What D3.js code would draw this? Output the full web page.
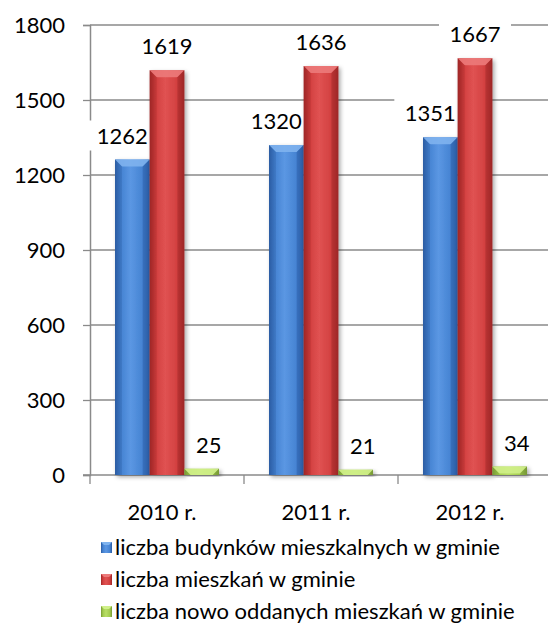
<!DOCTYPE html>
<html><head><meta charset="utf-8">
<script src="https://cdn.jsdelivr.net/npm/d3@7/dist/d3.min.js"></script>
<style>html,body{margin:0;padding:0;background:#fff;overflow:hidden}svg{display:block}</style>
</head><body>
<script>
const categories = ["2010 r.", "2011 r.", "2012 r."];
const seriesNames = ["liczba budynków mieszkalnych w gminie", "liczba mieszkań w gminie", "liczba nowo oddanych mieszkań w gminie"];
const budynki = [1262, 1320, 1351];
const mieszkania = [1619, 1636, 1667];
const nowe = [25, 21, 34];
const yTicks = [0, 300, 600, 900, 1200, 1500, 1800];

(function () {
const W = 548, H = 630;
const svg = d3.select("body").append("svg").attr("width", W).attr("height", H);
const font = "Lato, 'Open Sans', sans-serif";

const colors = [
  {mid: "#4583d2", light: "#5b97e3", dark: "#2b5ca3", top: "#7fb3ee"},
  {mid: "#d24040", light: "#e05252", dark: "#9e2626", top: "#ec7a7a"},
  {mid: "#a3cc4e", light: "#b8de66", dark: "#789a36", top: "#d0f08a"}
];
const defs = svg.append("defs");
colors.forEach((c, i) => {
  const g = defs.append("linearGradient").attr("id", "g" + i).attr("x1", 0).attr("x2", 1).attr("y1", 0).attr("y2", 0);
  g.append("stop").attr("offset", "0%").attr("stop-color", c.dark);
  g.append("stop").attr("offset", "18%").attr("stop-color", c.mid);
  g.append("stop").attr("offset", "45%").attr("stop-color", c.light);
  g.append("stop").attr("offset", "80%").attr("stop-color", c.mid);
  g.append("stop").attr("offset", "100%").attr("stop-color", c.dark);
});
const f = defs.append("filter").attr("id", "sh").attr("x", "-30%").attr("y", "-30%").attr("width", "160%").attr("height", "160%");
f.append("feDropShadow").attr("dx", 2).attr("dy", 2).attr("stdDeviation", 2).attr("flood-color", "#000").attr("flood-opacity", 0.35);

const pL = 90, pR = 552, pT = 25, pB = 475;
const y = d3.scaleLinear().domain([0, 1800]).range([pB, pT]);
const x = d3.scaleBand().domain(categories).range([pL, pR]).padding(0);
const inner = d3.scaleBand().domain([0, 1, 2]).range([25, x.bandwidth() - 25]).padding(0);

// gridlines
svg.append("g").selectAll("line").data(yTicks.filter(d => d > 0)).join("line")
  .attr("x1", pL).attr("x2", W).attr("y1", d => y(d)).attr("y2", d => y(d))
  .attr("stroke", "#8a8a8a").attr("stroke-width", 1.3);

// y axis
const yAxis = d3.axisLeft(y).tickValues(yTicks).tickSize(7).tickPadding(18).tickFormat(d3.format("d"));
const ya = svg.append("g").attr("transform", `translate(${pL},0)`).call(yAxis);
ya.select(".domain").attr("stroke", "#8a8a8a").attr("stroke-width", 1.5);
ya.selectAll(".tick line").attr("stroke", "#8a8a8a").attr("stroke-width", 1.3);
ya.selectAll("text").attr("font-family", font).attr("font-size", 22).attr("fill", "#000");

// x axis
const xa = svg.append("g").attr("transform", `translate(0,${pB})`);
xa.append("line").attr("x1", pL - 7).attr("x2", W).attr("y1", 0).attr("y2", 0).attr("stroke", "#8a8a8a").attr("stroke-width", 1.5);
const bounds = categories.map(c => x(c)).concat([x(categories[categories.length - 1]) + x.bandwidth()]);
xa.selectAll("line.t").data(bounds).join("line").attr("class", "t")
  .attr("x1", d => d).attr("x2", d => d).attr("y1", 0).attr("y2", 9).attr("stroke", "#8a8a8a").attr("stroke-width", 1.3);
xa.selectAll("text").data(categories).join("text")
  .attr("x", d => x(d) + x.bandwidth() / 2 - 5).attr("y", 45)
  .attr("text-anchor", "middle").attr("font-family", font).attr("font-size", 22).text(d => d);

const series = [budynki, mieszkania, nowe];
const labelDx = [-10, 0, 7];
const bev = 7;

// label backgrounds (behind bars, above gridlines)
const bgG = svg.append("g");
series.forEach((vals, si) => {
  vals.forEach((v, ci) => {
    const cx = x(categories[ci]) + inner(si) + inner.bandwidth() / 2 + labelDx[si];
    const by = y(v) - 16;
    bgG.append("rect").attr("x", cx - 36).attr("y", by - 23).attr("width", 72).attr("height", 30).attr("fill", "#fff");
  });
});

// bars
series.forEach((vals, si) => {
  const g = svg.append("g");
  vals.forEach((v, ci) => {
    const x0 = x(categories[ci]) + inner(si), w = inner.bandwidth();
    const y0 = y(v), h = y(0) - y(v);
    g.append("rect").attr("x", x0).attr("y", y0).attr("width", w).attr("height", h)
      .attr("fill", `url(#g${si})`).attr("filter", "url(#sh)");
    const b = Math.min(bev, h);
    g.append("path").attr("d", `M${x0},${y0}L${x0 + w},${y0}L${x0 + w - b},${y0 + b}L${x0 + b},${y0 + b}Z`)
      .attr("fill", colors[si].top).attr("opacity", 0.9);
    g.append("path").attr("d", `M${x0},${y0}L${x0 + b},${y0 + b}L${x0 + b},${y0 + h}L${x0},${y0 + h}Z`)
      .attr("fill", colors[si].dark).attr("opacity", 0.3);
    g.append("path").attr("d", `M${x0 + w},${y0}L${x0 + w - b},${y0 + b}L${x0 + w - b},${y0 + h}L${x0 + w},${y0 + h}Z`)
      .attr("fill", colors[si].dark).attr("opacity", 0.45);
  });
});

// labels
series.forEach((vals, si) => {
  vals.forEach((v, ci) => {
    const cx = x(categories[ci]) + inner(si) + inner.bandwidth() / 2 + labelDx[si];
    svg.append("text").attr("x", cx).attr("y", y(v) - 16).attr("text-anchor", "middle")
      .attr("font-family", font).attr("font-size", 22).attr("fill", "#000").text(v);
  });
});

// legend
const lg = svg.append("g");
seriesNames.forEach((n, i) => {
  const by = 555 + i * 32;
  lg.append("rect").attr("x", 101).attr("y", by - 13).attr("width", 11).attr("height", 11).attr("fill", `url(#g${i})`);
  lg.append("path").attr("d", `M101,${by - 13}L112,${by - 13}L109,${by - 10}L104,${by - 10}Z`).attr("fill", colors[i].top);
  lg.append("text").attr("x", 115).attr("y", by).attr("font-family", font).attr("font-size", 22).attr("fill", "#000").text(n);
});
})();
</script>
</body></html>
